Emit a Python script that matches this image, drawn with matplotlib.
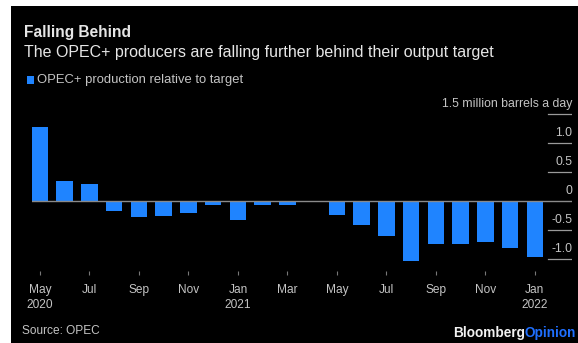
import matplotlib.pyplot as plt
from matplotlib.patches import Rectangle
from matplotlib.transforms import blended_transform_factory, offset_copy

plt.rcParams['font.family'] = ['Liberation Sans', 'DejaVu Sans']

# monthly gap vs target, million barrels a day (May 2020 .. Jan 2022)
months = ['May', 'Jun', 'Jul', 'Aug', 'Sep', 'Oct', 'Nov', 'Dec',
          'Jan', 'Feb', 'Mar', 'Apr', 'May', 'Jun', 'Jul', 'Aug',
          'Sep', 'Oct', 'Nov', 'Dec', 'Jan']
gap = [1.28, 0.35, 0.29, -0.17, -0.28, -0.26, -0.21, -0.07,
       -0.33, -0.07, -0.07, -0.02, -0.24, -0.41, -0.60, -1.03,
       -0.74, -0.74, -0.71, -0.81, -0.96]
tick_labels = ['May\n2020', 'Jul', 'Sep', 'Nov', 'Jan\n2021', 'Mar',
               'May', 'Jul', 'Sep', 'Nov', 'Jan\n2022']
y_levels = [1.5, 1.0, 0.5, 0, -0.5, -1.0]
y_texts = ['1.5 million barrels a day', '1.0', '0.5', '0', '-0.5', '-1.0']

BLUE = '#1f84ff'
TXT = '#e6e6e6'
GREY = '#c4c4c4'

W, H = 578, 343
fig = plt.figure(figsize=(W / 100, H / 100), dpi=100, facecolor='white')
fig.patches.append(Rectangle((11 / W, 0), 1, (H - 6) / H, transform=fig.transFigure,
                             facecolor='black', edgecolor='none', zorder=-5))

ax = fig.add_axes([32 / W, (H - 270.6) / H, 540 / W, 159.6 / H])
ax.set_facecolor('none')
x = list(range(len(gap)))
ax.bar(x, gap, width=0.67, color=BLUE, zorder=2)
ax.set_xlim(-0.32, 21.5)
ax.set_ylim(-1.2, 1.55)

for s in ax.spines.values():
    s.set_visible(False)

# zero line spans the plot, other levels are short stubs under the labels
ax.axhline(0, color='#8a8a8a', lw=1, zorder=3)
trans = blended_transform_factory(ax.transAxes, ax.transData)
for lv, t in zip(y_levels, y_texts):
    if lv != 0:
        ax.plot([0.956, 1.0], [lv, lv], transform=trans, color='#9a9a9a', lw=0.9)
    ax.text(1.0, lv, t, transform=offset_copy(trans, fig=fig, y=3, units='points'),
            ha='right', va='bottom', color=GREY, fontsize=8.8)
ax.set_yticks([])

ax.set_xticks(x[::2])
ax.set_xticklabels(tick_labels, color=GREY, fontsize=8.6, linespacing=1.3)
ax.tick_params(axis='x', length=3, width=0.8, color='#777777', pad=7)

fig.text(24 / W, 1 - 33 / H, 'Falling Behind', color=TXT, fontsize=11.2,
         fontweight='bold', va='center')
fig.text(24 / W, 1 - 52 / H, 'The OPEC+ producers are falling further behind their output target',
         color=TXT, fontsize=11.5, va='center')
fig.patches.append(Rectangle((27 / W, 1 - 84 / H), 7 / W, 8 / H, transform=fig.transFigure,
                             facecolor=BLUE, edgecolor='none'))
fig.text(37 / W, 1 - 80 / H, 'OPEC+ production relative to target', color=GREY,
         fontsize=9.4, va='center')
fig.text(22 / W, 1 - 331 / H, 'Source: OPEC', color=GREY, fontsize=8.6, va='center')
brand = fig.text(453 / W, 1 - 333 / H, 'Bloomberg', color='#f2f2f2', fontsize=9.8,
                 fontweight='bold', va='center')
fig.canvas.draw()
bb = brand.get_window_extent()
fig.text(bb.x1 / W, 1 - 333 / H, 'Opinion', color='#1f6fff', fontsize=9.8,
         fontweight='bold', va='center')

fig.savefig('out.png', dpi=100, facecolor=fig.get_facecolor())
